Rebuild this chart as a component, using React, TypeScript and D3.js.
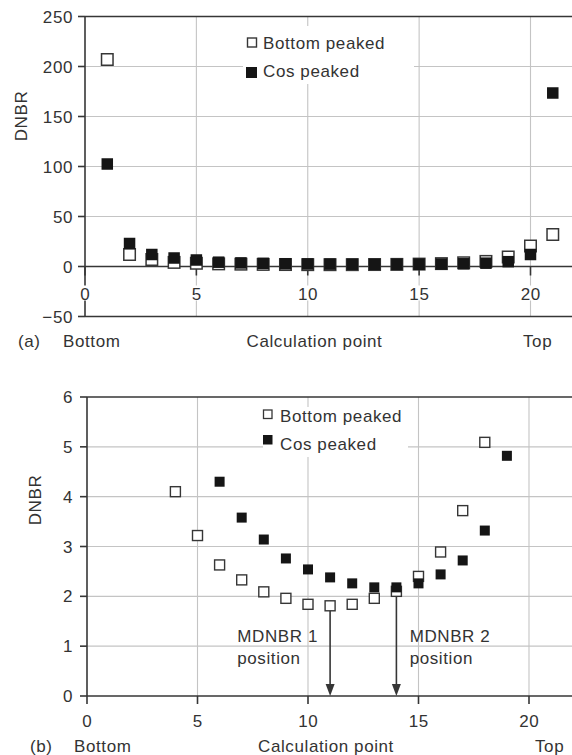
import { useEffect, useRef } from "react";
import * as d3 from "d3";

// calculation points along the channel, bottom (1) to top (21)
const calcPoints = d3.range(1, 22);
const bottomPeaked = [207, 12, 7, 4.1, 3.22, 2.63, 2.33, 2.09, 1.96, 1.84, 1.81, 1.84, 1.96, 2.1, 2.4, 2.89, 3.72, 5.09, 9.5, 20.5, 32];
const cosPeaked = [102.5, 23, 12, 8.5, 6.5, 4.3, 3.58, 3.14, 2.76, 2.54, 2.38, 2.26, 2.18, 2.18, 2.26, 2.44, 2.72, 3.32, 4.82, 12, 173.5];

const xTicks = [0, 5, 10, 15, 20];
const yTicksA = [-50, 0, 50, 100, 150, 200, 250];
const yTicksB = [0, 1, 2, 3, 4, 5, 6];

// MDNBR positions marked in panel (b)
const mdnbrPoints = [11, 14];
const mdnbrLabels = ["MDNBR 1", "MDNBR 2"];

const FONT = "'Liberation Sans', Arial, Helvetica, sans-serif";
const TEXT = "#333";
const AXIS = "#363636";
const GRID = "#c4c4c4";
const W = 572;

type Sel = d3.Selection<SVGGElement, unknown, null, undefined>;

const label = (g: Sel, x: number, y: number, s: string, anchor = "start") =>
  g
    .append("text")
    .attr("x", x)
    .attr("y", y)
    .attr("text-anchor", anchor)
    .attr("font-family", FONT)
    .attr("font-size", 17)
    .attr("letter-spacing", 0.6)
    .attr("fill", TEXT)
    .text(s);

const line = (g: Sel, x1: number, y1: number, x2: number, y2: number, color: string, w: number) =>
  g
    .append("line")
    .attr("x1", x1)
    .attr("y1", y1)
    .attr("x2", x2)
    .attr("y2", y2)
    .attr("stroke", color)
    .attr("stroke-width", w);

const App = () => {
  const ref = useRef<SVGSVGElement>(null);

  useEffect(() => {
    const svg = d3.select(ref.current);
    svg.selectAll("*").remove();

    const rows = calcPoints.map((p, i) => ({ p, bp: bottomPeaked[i], cp: cosPeaked[i] }));

    // ---------- panel (a)
    const ga = svg.append("g") as unknown as Sel;
    const xa = d3.scaleLinear().domain([0, 20]).range([85, 530.5]);
    const ya = d3.scaleLinear().domain([-50, 250]).range([316.5, 16.5]);

    [50, 100, 150, 200].forEach((v) => line(ga, xa(0), ya(v), W, ya(v), GRID, 1.1));
    xTicks.slice(1).forEach((v) => line(ga, xa(v), ya(250), xa(v), ya(-50), GRID, 1.1));
    [250, -50].forEach((v) => line(ga, xa(0), ya(v), W, ya(v), AXIS, 1.6));
    line(ga, xa(0), ya(0), W, ya(0), AXIS, 1.6);
    line(ga, xa(0), ya(250), xa(0), ya(-50), AXIS, 1.6);
    yTicksA.forEach((v) => line(ga, xa(0) - 7, ya(v), xa(0), ya(v), AXIS, 1.6));
    xTicks.forEach((v) => {
      line(ga, xa(v), ya(0), xa(v), ya(0) + 9, AXIS, 1.6);
      const s = String(v);
      const w = s.length * 10 + 2;
      ga.append("rect").attr("x", xa(v) - w / 2).attr("y", ya(0) + 19).attr("width", w).attr("height", 15).attr("fill", "#fff");
      label(ga, xa(v) + 0.3, ya(0) + 33, s, "middle");
    });
    yTicksA.forEach((v) => label(ga, 73, ya(v) + 6, v < 0 ? `\u2212${-v}` : String(v), "end"));

    // legend (a)
    ga.append("rect").attr("x", 243).attr("y", 26).attr("width", 171).attr("height", 58).attr("fill", "#fff");
    ga.append("rect").attr("x", 247.5).attr("y", 38).attr("width", 9).attr("height", 9).attr("fill", "#fff").attr("stroke", AXIS).attr("stroke-width", 1.4);
    ga.append("rect").attr("x", 246).attr("y", 67).attr("width", 11).attr("height", 11).attr("fill", "#151515");
    label(ga, 263, 49, "Bottom peaked");
    label(ga, 263, 77, "Cos peaked");

    const ma = 11.5;
    ga.selectAll(".bp")
      .data(rows)
      .enter()
      .append("rect")
      .attr("x", (d) => xa(d.p) - ma / 2)
      .attr("y", (d) => ya(d.bp) - ma / 2)
      .attr("width", ma)
      .attr("height", ma)
      .attr("fill", "#fff")
      .attr("stroke", AXIS)
      .attr("stroke-width", 1.5);
    ga.selectAll(".cp")
      .data(rows)
      .enter()
      .append("rect")
      .attr("x", (d) => xa(d.p) - ma / 2)
      .attr("y", (d) => ya(d.cp) - ma / 2)
      .attr("width", ma)
      .attr("height", ma)
      .attr("fill", "#151515");

    ga.append("text")
      .attr("transform", "translate(21,116) rotate(-90)")
      .attr("text-anchor", "middle")
      .attr("dy", "0.35em")
      .attr("font-family", FONT)
      .attr("font-size", 17)
      .attr("letter-spacing", 0.6)
      .attr("fill", TEXT)
      .text("DNBR");
    label(ga, 18, 347, "(a)");
    label(ga, 63, 347, "Bottom");
    label(ga, 314.5, 347, "Calculation point", "middle");
    label(ga, 523, 347, "Top");

    // ---------- panel (b)
    const gb = svg.append("g") as unknown as Sel;
    const xb = d3.scaleLinear().domain([0, 20]).range([87, 529]);
    const yb = d3.scaleLinear().domain([0, 6]).range([696, 397]);

    [1, 2, 3, 4, 5].forEach((v) => line(gb, xb(0), yb(v), W, yb(v), GRID, 1.1));
    xTicks.slice(1).forEach((v) => line(gb, xb(v), yb(6), xb(v), yb(0), GRID, 1.1));
    line(gb, xb(0), yb(6), W, yb(6), AXIS, 1.6);
    line(gb, xb(0), yb(0), W, yb(0), AXIS, 1.6);
    line(gb, xb(0), yb(6), xb(0), yb(0), AXIS, 1.6);
    yTicksB.forEach((v) => {
      line(gb, xb(0) - 7, yb(v), xb(0), yb(v), AXIS, 1.6);
      label(gb, 73, yb(v) + 6, String(v), "end");
    });
    xTicks.forEach((v) => {
      line(gb, xb(v), yb(0), xb(v), yb(0) + 8, AXIS, 1.6);
      label(gb, xb(v) + 0.3, 727, String(v), "middle");
    });

    // legend (b)
    gb.append("rect").attr("x", 263).attr("y", 407).attr("width", 145).attr("height", 50).attr("fill", "#fff");
    gb.append("rect").attr("x", 263.5).attr("y", 410).attr("width", 8.5).attr("height", 8.5).attr("fill", "#fff").attr("stroke", AXIS).attr("stroke-width", 1.3);
    gb.append("rect").attr("x", 263).attr("y", 435).attr("width", 9.5).attr("height", 9.5).attr("fill", "#151515");
    label(gb, 280, 422, "Bottom peaked");
    label(gb, 280, 450, "Cos peaked");

    // MDNBR arrows
    mdnbrPoints.forEach((p, i) => {
      const x = xb(p);
      const y0 = yb(bottomPeaked[p - 1]);
      line(gb, x, y0, x, yb(0) - 10, AXIS, 1.6);
      gb.append("path")
        .attr("d", `M${x - 4.5},${yb(0) - 12}L${x + 4.5},${yb(0) - 12}L${x},${yb(0)}Z`)
        .attr("fill", AXIS);
      const lx = xb(i === 0 ? 6.8 : 14.6);
      label(gb, lx, yb(1.08), mdnbrLabels[i]);
      label(gb, lx, yb(0.64), "position");
    });

    const inB = (v: number) => v >= 0 && v <= 6;
    const mb = 10;
    gb.selectAll(".bp")
      .data(rows.filter((d) => inB(d.bp)))
      .enter()
      .append("rect")
      .attr("x", (d) => xb(d.p) - mb / 2)
      .attr("y", (d) => yb(d.bp) - mb / 2)
      .attr("width", mb)
      .attr("height", mb)
      .attr("fill", "#fff")
      .attr("stroke", AXIS)
      .attr("stroke-width", 1.4);
    gb.selectAll(".cp")
      .data(rows.filter((d) => inB(d.cp)))
      .enter()
      .append("rect")
      .attr("x", (d) => xb(d.p) - mb / 2)
      .attr("y", (d) => yb(d.cp) - mb / 2)
      .attr("width", mb)
      .attr("height", mb)
      .attr("fill", "#151515");

    gb.append("text")
      .attr("transform", "translate(35,500) rotate(-90)")
      .attr("text-anchor", "middle")
      .attr("dy", "0.35em")
      .attr("font-family", FONT)
      .attr("font-size", 17)
      .attr("letter-spacing", 0.6)
      .attr("fill", TEXT)
      .text("DNBR");
    label(gb, 30, 752, "(b)");
    label(gb, 74, 752, "Bottom");
    label(gb, 326, 752, "Calculation point", "middle");
    label(gb, 535, 752, "Top");
  }, []);

  return (
    <svg
      ref={ref}
      width={W}
      height={755}
      style={{ position: "absolute", left: 0, top: 0, background: "#fff" }}
    />
  );
};

export default App;
